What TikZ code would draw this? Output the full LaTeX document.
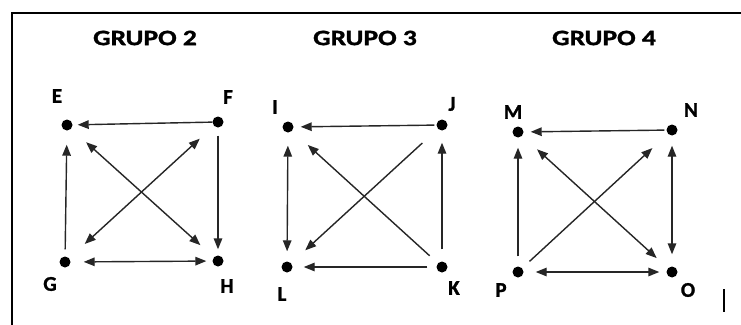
\documentclass[tikz,border=0pt]{standalone}
\usepackage{fontspec}
\setmainfont{Carlito}
\newfontfamily\heavyfont{Carlito}[UprightFont=*-Bold,FakeBold=1.2]
\usetikzlibrary{arrows.meta}
\begin{document}
\begin{tikzpicture}[x=1pt,y=-1pt,
  dot/.style={circle,fill=black,inner sep=0pt,minimum size=11pt},
  lbl/.style={font=\heavyfont\fontsize{21}{21}\selectfont,inner sep=0pt},
  ttl/.style={font=\heavyfont\fontsize{22}{22}\selectfont,inner sep=0pt},
  arc/.style={draw=black!85,line width=1.4pt,-{Triangle[length=11pt,width=8.5pt]}},
  both/.style={arc,{Triangle[length=11pt,width=8.5pt]}-{Triangle[length=11pt,width=8.5pt]}},
]
\useasboundingbox (0,0) rectangle (741,324);
\fill[white] (0,0) rectangle (741,324);
\clip (0,0) rectangle (741,324);

% frame
\draw[line width=1.6pt] (12,340) -- (12,13) -- (760,13);

% titles
\node[ttl] (t2) at (145,38) {\scalebox{1.25}[1]{GRUPO 2}};
\node[ttl] (t3) at (365,38) {\scalebox{1.25}[1]{GRUPO 3}};
\node[ttl] (t4) at (604,38) {\scalebox{1.25}[1]{GRUPO 4}};

% group 2
\node[dot] (E) at (67,125) {};
\node[dot] (F) at (218,122) {};
\node[dot] (G) at (65,262) {};
\node[dot] (H) at (218,261) {};
\node[lbl] (lE) at (57,96) {E};
\node[lbl] (lF) at (228,97) {F};
\node[lbl] (lG) at (50,284) {G};
\node[lbl] (lH) at (227,286) {H};
\draw[arc, shorten <=0pt, shorten >=5pt] (F) -- (E);
\draw[arc, shorten <=7pt, shorten >=14pt] (G) -- (E);
\draw[arc, shorten <=8pt, shorten >=6pt] (F) -- (H);
\draw[both, shorten <=13pt, shorten >=6pt] (G) -- (H);
\draw[both, shorten <=20pt, shorten >=18pt] (E) -- (H);
\draw[both, shorten <=21pt, shorten >=19pt] (G) -- (F);

% group 3
\node[dot] (I) at (288,127) {};
\node[dot] (J) at (442,125) {};
\node[dot] (L) at (287,267) {};
\node[dot] (K) at (442,267) {};
\node[lbl] (lI) at (275,107) {I};
\node[lbl] (lJ) at (452,104) {J};
\node[lbl] (lL) at (282,294) {L};
\node[lbl] (lK) at (454,288) {K};
\draw[arc, shorten <=2pt, shorten >=7pt] (J) -- (I);
\draw[both, shorten <=13pt, shorten >=10pt] (I) -- (L);
\draw[arc, shorten <=9pt, shorten >=11pt] (K) -- (L);
\draw[arc, shorten <=12pt, shorten >=12pt] (K) -- (J);
\draw[arc, shorten <=11pt, shorten >=21pt] (K) -- (I);
\draw[arc, shorten <=21pt, shorten >=19pt] (J) -- (L);

% group 4
\node[dot] (M) at (518,132) {};
\node[dot] (N) at (672,130) {};
\node[dot] (P) at (518,272) {};
\node[dot] (O) at (672,272) {};
\node[lbl] (lM) at (513,112) {M};
\node[lbl] (lN) at (691,110) {N};
\node[lbl] (lP) at (501,290) {P};
\node[lbl] (lO) at (688,290) {O};
\draw[arc, shorten <=2pt, shorten >=7pt] (N) -- (M);
\draw[arc, shorten <=10pt, shorten >=10pt] (P) -- (M);
\draw[both, shorten <=10pt, shorten >=12pt] (N) -- (O);
\draw[both, shorten <=12pt, shorten >=7pt] (P) -- (O);
\draw[both, shorten <=20pt, shorten >=15pt] (M) -- (O);
\draw[arc, shorten <=10pt, shorten >=21pt] (P) -- (N);

% text cursor mark
\draw[line width=1.8pt] (724,289) -- (724,312);
\end{tikzpicture}
\end{document}
